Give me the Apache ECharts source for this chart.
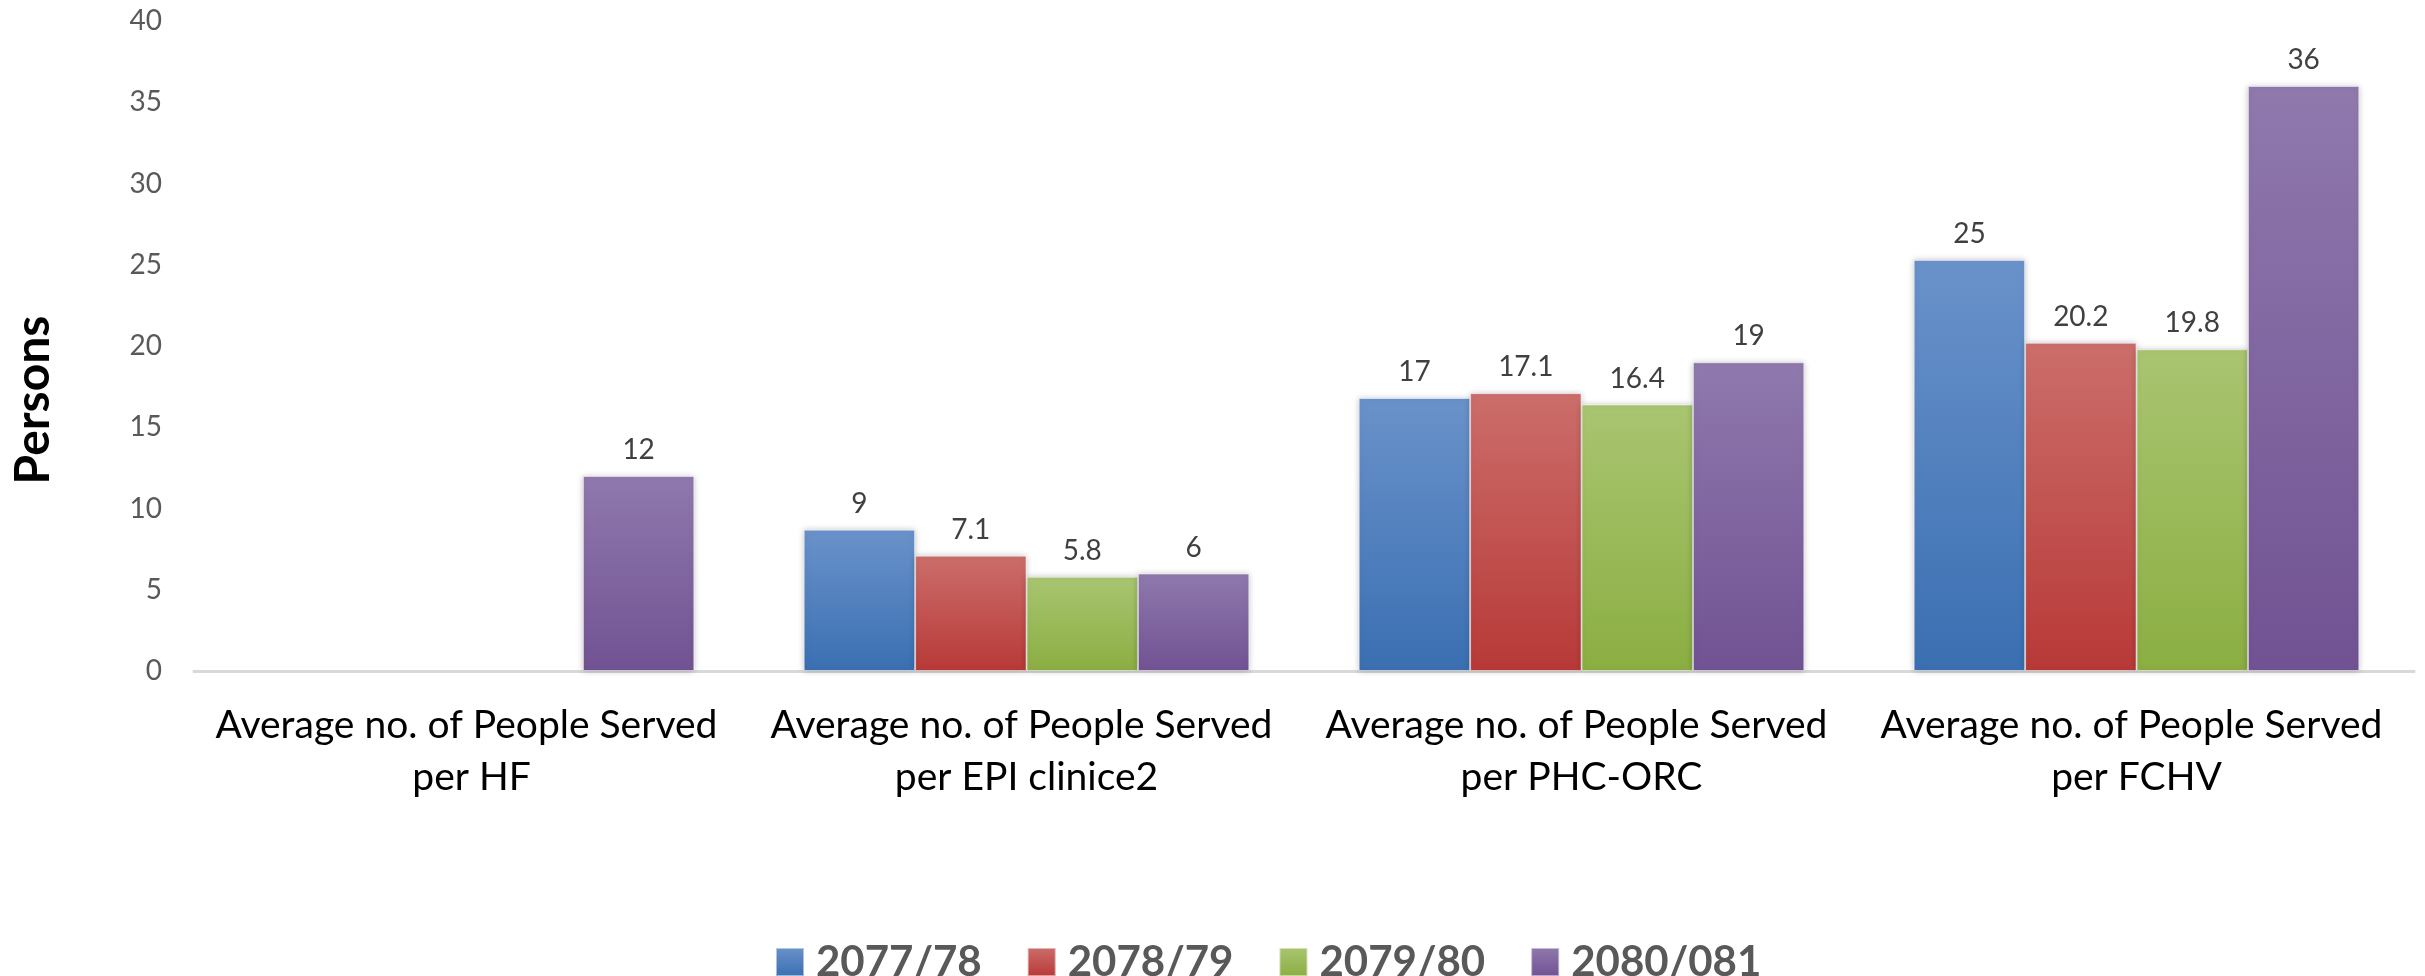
<!DOCTYPE html>
<html>
<head>
<meta charset="utf-8">
<script src="https://cdn.jsdelivr.net/npm/echarts@6/dist/echarts.min.js"></script>
<style>
    html, body { margin: 0; padding: 0; background: #ffffff; }
    #main { width: 2425px; height: 976px; }
</style>
</head>
<body>
<div id="main"></div>
<script>
    // 数据
    var categories = [
        'Average no. of People Served per HF',
        'Average no. of People Served per EPI clinice2',
        'Average no. of People Served per PHC-ORC',
        'Average no. of People Served per FCHV'
    ];
    var seriesNames = ['2077/78', '2078/79', '2079/80', '2080/081'];
    var v2077 = [null, 8.7, 16.8, 25.3];
    var v2078 = [null, 7.1, 17.1, 20.2];
    var v2079 = [null, 5.8, 16.4, 19.8];
    var v2080 = [12, 6, 19, 36];
    var yTicks = [0, 40, 5]; // min, max, interval

    // 渐变色 (上浅下深)
    var colors = [
        ['#6a92ca', '#3a6fb2'],
        ['#cb6e6b', '#b83937'],
        ['#a9c571', '#8bae42'],
        ['#8f79ad', '#715293']
    ];
    var decimals = [0, 1, 1, 0];
    var values = [v2077, v2078, v2079, v2080];

    var font = 'Lato, "Open Sans", sans-serif';
    var myChart = echarts.init(document.getElementById('main'));

    var series = values.map(function (data, i) {
        return {
            name: seriesNames[i],
            type: 'bar',
            data: data,
            barGap: '0%',
            barCategoryGap: '19.7%',
            itemStyle: {
                color: new echarts.graphic.LinearGradient(0, 0, 0, 1, [
                    {offset: 0, color: colors[i][0]},
                    {offset: 1, color: colors[i][1]}
                ]),
                borderColor: 'rgba(255,255,255,0.5)',
                borderWidth: 1,
                shadowBlur: 6,
                shadowColor: 'rgba(0,0,0,0.22)'
            },
            label: {
                show: true,
                position: 'top',
                distance: 12,
                color: '#404040',
                fontFamily: font,
                fontSize: 28,
                formatter: function (p) {
                    return p.value == null ? '' : Number(p.value).toFixed(decimals[i]);
                }
            }
        };
    });

    var option = {
        backgroundColor: '#ffffff',
        animation: false,
        grid: {left: 194, right: 11, top: 21, bottom: 305, containLabel: false, outerBoundsMode: 'none'},
        legend: {
            data: seriesNames,
            left: 770,
            top: 936,
            itemWidth: 28,
            itemHeight: 28,
            itemGap: 45,
            icon: 'rect',
            textStyle: {
                color: '#595959',
                fontFamily: font,
                fontWeight: 'bold',
                fontSize: 42,
                padding: [0, 0, 0, 7]
            }
        },
        xAxis: {
            type: 'category',
            data: categories,
            axisLine: {lineStyle: {color: '#d9d9d9', width: 3}},
            axisTick: {show: false},
            axisLabel: {
                color: '#000000',
                fontFamily: font,
                fontSize: 39,
                lineHeight: 52,
                margin: 28,
                width: 520,
                overflow: 'break',
                interval: 0
            }
        },
        yAxis: {
            type: 'value',
            min: yTicks[0],
            max: yTicks[1],
            interval: yTicks[2],
            name: 'Persons',
            nameLocation: 'middle',
            nameGap: 136,
            nameRotate: 90,
            nameTextStyle: {
                color: '#000000',
                fontFamily: font,
                fontWeight: 'bold',
                fontSize: 48,
                padding: [0, 108, 0, 0]
            },
            axisLine: {show: false},
            axisTick: {show: false},
            splitLine: {show: false},
            axisLabel: {
                color: '#595959',
                fontFamily: font,
                fontSize: 28,
                margin: 32
            }
        },
        series: series
    };

    myChart.setOption(option);
    window.addEventListener('resize', function () {
        myChart.resize();
    });
</script>
</body>
</html>
